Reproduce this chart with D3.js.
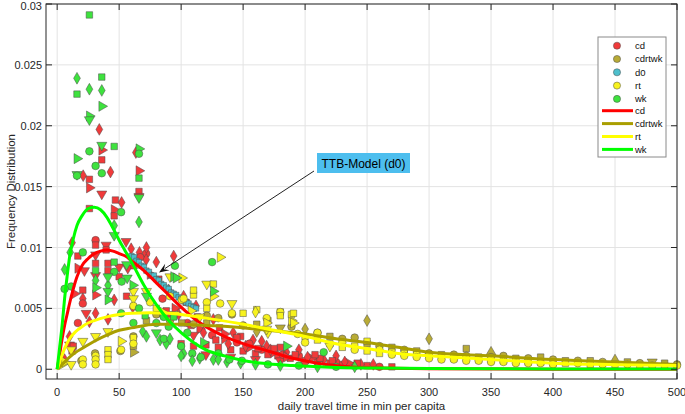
<!DOCTYPE html>
<html>
<head>
<meta charset="utf-8">
<script src="https://cdn.jsdelivr.net/npm/d3@7/dist/d3.min.js"></script>
<style>
  html, body { margin: 0; padding: 0; background: #ffffff; }
  svg { display: block; font-family: "Liberation Sans", Arial, Helvetica, sans-serif; }
</style>
</head>
<body>
<svg id="chart" width="685" height="414"></svg>
<script>
// ---------------- DATA ----------------
const xTicks = [0, 50, 100, 150, 200, 250, 300, 350, 400, 450, 500];
const yTicks = [0, 0.005, 0.01, 0.015, 0.02, 0.025, 0.03];
const yTickLabels = ["0", "0.005", "0.01", "0.015", "0.02", "0.025", "0.03"];
const seriesNames = ["cd", "cdrtwk", "d0", "rt", "wk"];
const lineNames = ["cd", "cdrtwk", "rt", "wk"];

// scatter points: [minutes, frequency, marker]
const cdPoints = [
  [34,0.0197,'d'],[36,0.0180,'>'],[36,0.0172,'s'],[63.5,0.0178,'d'],[21,0.0159,'d'],[26,0.0156,'s'],
  [43,0.0162,'d'],[66,0.0163,'>'],[26,0.0149,'>'],[36,0.0144,'v'],[47,0.0139,'s'],[52,0.0137,'d'],
  [66,0.0146,'s'],[66,0.0142,'v'],[26,0.0132,'s'],[46,0.0131,'>'],[46,0.0126,'s'],[31,0.0106,'o'],
  [31,0.0102,'s'],[12,0.0104,'d'],[39.5,0.0102,'v'],[39.5,0.0098,'s'],[16.7,0.0093,'s'],[31,0.0094,'v'],
  [55.6,0.0105,'v'],[59.7,0.0099,'d'],[66.4,0.0096,'d'],[71.8,0.0095,'o'],[71.8,0.0090,'d'],[41,0.0087,'s'],
  [41,0.0081,'s'],[50,0.0084,'v'],[57,0.0083,'v'],[50,0.0076,'s'],[16.7,0.0083,'>'],[22,0.0081,'v'],
  [31,0.0087,'s'],[31,0.0077,'v'],[31,0.0061,'>'],[46,0.0057,'d'],[31,0.0046,'d'],[23.4,0.0046,'v'],
  [20.7,0.0065,'s'],[20.7,0.0058,'d'],[14,0.0062,'>'],[20.7,0.0054,'o'],[16.7,0.0038,'o'],[26,0.0039,'d'],
  [10,0.0027,'d'],[10,0.0020,'v'],[13,0.0019,'s'],[12,0.0015,'s'],[6,0.0008,'d'],[94,0.0093,'d'],
  [41,0.0041,'d'],[56,0.0060,'s'],[61,0.0051,'d'],[67,0.0092,'o'],[72,0.0100,'d'],[80,0.0088,'d'],
  [62,0.0085,'s'],[75,0.0078,'>'],[82,0.0074,'s'],[90,0.0065,'d'],[85,0.0058,'o'],[95,0.0050,'>'],
  [102,0.0060,'d'],[104,0.0055,'s'],[112,0.0052,'d'],[113,0.0043,'s'],[126,0.0041,'d'],[131,0.0034,'s'],
  [142,0.0030,'d'],[148,0.0027,'s'],[158,0.0024,'d'],[169,0.0019,'d'],[180,0.0018,'s'],[185,0.0014,'d'],
  [100,0.0021,'s'],[110,0.0019,'s'],[120,0.0020,'s'],[130,0.0018,'s'],[140,0.0016,'s'],[150,0.0015,'s'],
  [160,0.0013,'s'],[170,0.0012,'s'],[178,0.0011,'s'],[188,0.0009,'s'],[200,0.0007,'s'],[210,0.0006,'s'],
  [220,0.0005,'s'],[230,0.0004,'s'],[240,0.0003,'s'],[250,0.0003,'s'],[105,0.0038,'o'],[115,0.0033,'>'],
  [125,0.0028,'o'],[135,0.0025,'>'],[145,0.0022,'o'],[155,0.0018,'>'],[165,0.0016,'o'],[175,0.0014,'>'],
  [195,0.0011,'o'],[205,0.0009,'>'],[215,0.0008,'d'],[225,0.0006,'o'],[235,0.0005,'>'],[245,0.0004,'d'],
  [260,0.0002,'o'],[270,0.0002,'s'],[120,0.0012,'v'],[140,0.0010,'v'],[160,0.0008,'v'],[180,0.0007,'v'],
  [200,0.0005,'v'],[110,0.0028,'v'],[165,0.0023,'d'],[195,0.0016,'d'],[225,0.0011,'d'],
  [98,0.0045,'d'],[108,0.0036,'s'],[118,0.0030,'d'],[128,0.0024,'s'],[138,0.0021,'d'],[152,0.0019,'d'],
  [162,0.0017,'s'],[172,0.0016,'d'],[182,0.0012,'o'],[192,0.0012,'s'],[202,0.0010,'d'],[212,0.0009,'s'],
  [222,0.0007,'s'],[232,0.0006,'d'],[242,0.0005,'s'],[255,0.0004,'d'],[135,0.0029,'>'],[145,0.0026,'s'],
  [155,0.0021,'o'],[175,0.0017,'s'],[185,0.0010,'>'],[208,0.0012,'s'],[88,0.0048,'s'],[92,0.0044,'o']
];
const cdrtwkPoints = [
  [61.5,0.0014,'>'],[61.5,0.0019,'s'],[61.5,0.0027,'o'],[51,0.0015,'o'],[30.6,0.0013,'o'],[19.5,0.0007,'o'],
  [80,0.0045,'o'],[72,0.0040,'s'],[91,0.0040,'o'],[100.5,0.0038,'s'],[110,0.0037,'o'],[120.7,0.0044,'o'],
  [120.7,0.0038,'s'],[130,0.0042,'o'],[141,0.0045,'o'],[150,0.0036,'o'],[161,0.0037,'s'],[161,0.0031,'d'],
  [170,0.0040,'s'],[180,0.0047,'s'],[180,0.0034,'v'],[189,0.0035,'o'],
  [200,0.0033,'d'],[210,0.0030,'o'],[220,0.0027,'s'],[230,0.0025,'o'],[240,0.0026,'o'],[250,0.0040,'d'],
  [250,0.0021,'s'],[260,0.0019,'o'],[270,0.0018,'s'],[280,0.0016,'o'],[290,0.0015,'s'],[300,0.0025,'d'],
  [300,0.0013,'o'],[310,0.0012,'s'],[320,0.0012,'o'],[330,0.0017,'s'],[330,0.0011,'o'],[340,0.0010,'s'],
  [350,0.0014,'^'],[350,0.0010,'o'],[360,0.0011,'o'],[370,0.0009,'s'],[380,0.0009,'o'],[390,0.0010,'s'],
  [400,0.0008,'o'],[410,0.0007,'s'],[420,0.0007,'o'],[430,0.0007,'s'],[440,0.0006,'o'],[450,0.00076,'^'],
  [460,0.0006,'s'],[470,0.0005,'o'],[480,0.0006,'v'],[490,0.0005,'s'],[500,0.0004,'o']
];
const d0Points = [
  [60,0.0093,'s'],[62,0.0092,'s'],[64,0.0089,'s'],[66,0.0088,'s'],[68,0.0085,'s'],[70,0.0084,'s'],
  [72,0.0081,'s'],[74,0.0080,'s'],[76,0.0077,'s'],[78,0.0077,'s'],[80,0.0074,'s'],[82,0.0073,'s'],
  [84,0.0070,'s'],[86,0.0069,'s'],[88,0.0067,'s'],[90,0.0066,'s'],[92,0.0063,'s'],[94,0.0062,'s'],
  [96,0.0061,'s'],[98,0.0059,'s'],[100,0.0058,'s'],[102,0.0056,'s'],[104,0.0055,'s'],[106,0.0054,'s'],
  [108,0.0052,'s'],[110,0.0051,'s'],[112,0.0050,'s']
];
const rtPoints = [
  [4,0.0004,'>'],[6,0.0006,'>'],[11.3,0.0004,'v'],[20.7,0.0008,'o'],[20.7,0.0004,'o'],[31,0.0011,'o'],
  [31,0.0008,'o'],[31,0.0004,'o'],[41,0.0031,'v'],[31,0.0027,'v'],[20.7,0.0023,'v'],[11.3,0.0016,'v'],
  [41,0.0016,'s'],[41,0.0012,'s'],[41,0.0008,'s'],[51.6,0.0023,'>'],[51.6,0.0016,'o'],[61.5,0.0026,'s'],
  [61.5,0.0021,'o'],[61.5,0.0064,'v'],[61.5,0.0058,'v'],[61.5,0.0052,'o'],
  [131.5,0.0092,'>'],[91,0.0076,'v'],[100.5,0.0075,'>'],[120.7,0.0070,'v'],[126,0.0060,'>'],[91,0.0060,'o'],
  [100.5,0.0057,'o'],[110,0.0061,'s'],[120.7,0.0055,'o'],[120.7,0.0050,'s'],[131.5,0.0054,'o'],[141,0.0054,'v'],
  [141,0.0046,'o'],[150,0.0046,'s'],[161,0.0049,'s'],[169,0.0042,'o'],[170,0.0030,'v'],[180,0.0047,'o'],
  [180,0.0044,'s'],[189,0.0040,'>'],[189,0.0045,'s'],[194,0.0029,'o'],[102,0.0058,'o'],[110,0.0065,'s'],
  [126,0.0070,'s'],[160,0.0047,'d'],[169,0.0038,'>'],[169,0.0033,'v'],[190.6,0.0046,'s'],[190.6,0.0038,'>'],
  [75,0.0055,'o'],[80,0.0050,'s'],[85,0.0047,'>'],[72,0.0064,'v'],[95,0.0045,'v'],[108,0.0048,'>'],[115,0.0043,'v'],
  [200,0.0027,'s'],[200,0.0022,'o'],[210,0.0030,'o'],[210,0.0024,'s'],[220,0.0021,'s'],[220,0.0019,'v'],
  [230,0.0022,'o'],[230,0.0018,'s'],[240,0.0019,'s'],[240,0.0016,'o'],[250,0.0023,'s'],[250,0.0015,'s'],
  [260,0.0016,'o'],[260,0.0013,'s'],[270,0.0014,'s'],[270,0.0012,'o'],[280,0.0013,'s'],[280,0.0011,'o'],
  [290,0.0012,'s'],[290,0.0010,'o'],[300,0.0011,'s'],[300,0.0009,'o'],[310,0.0010,'s'],[310,0.0008,'o'],
  [320,0.0009,'s'],[320,0.0008,'o'],[330,0.0009,'s'],[330,0.0007,'o'],[340,0.0008,'s'],[340,0.0007,'o'],
  [350,0.0008,'s'],[350,0.0006,'o'],[360,0.0007,'s'],[360,0.0006,'o'],[370,0.0007,'s'],[370,0.0005,'o'],
  [380,0.0006,'s'],[380,0.0005,'o'],[390,0.0006,'s'],[390,0.0005,'o'],[400,0.0005,'s'],[400,0.0004,'o'],
  [410,0.0005,'s'],[420,0.0005,'o'],[430,0.0004,'s'],[440,0.0004,'o'],[450,0.0004,'s'],[460,0.0004,'o'],
  [470,0.0003,'s'],[480,0.0003,'o'],[490,0.0003,'s'],[500,0.0003,'o']
];
const wkPoints = [
  [26,0.0291,'s'],[16,0.0239,'d'],[36,0.0240,'s'],[16,0.0226,'s'],[26,0.0230,'d'],[36,0.0229,'d'],
  [36,0.0216,'>'],[26,0.0208,'>'],[26,0.0205,'v'],[36,0.0184,'v'],[46,0.0183,'s'],[26,0.0179,'o'],
  [16,0.0173,'>'],[31,0.0167,'o'],[16,0.0160,'v'],[16,0.0159,'o'],[36,0.0161,'o'],[66,0.0181,'>'],
  [66,0.0177,'o'],[66,0.0157,'s'],[66,0.0141,'v'],[51.6,0.0129,'o'],[66,0.0121,'d'],[46,0.0118,'d'],
  [46,0.0110,'v'],[10.5,0.0096,'d'],[20.7,0.0096,'o'],[31,0.0081,'s'],[31,0.0073,'d'],[31,0.0067,'>'],
  [41,0.0069,'d'],[41,0.0064,'v'],[41,0.0057,'>'],[56.5,0.0075,'v'],[52,0.0072,'o'],[6,0.0082,'d'],
  [11.3,0.0068,'o'],[6,0.0066,'o'],[46,0.0088,'s'],[46,0.0080,'o'],[56,0.0086,'v'],[61,0.0069,'>'],
  [51.6,0.0046,'o'],[61.5,0.0038,'o'],[69,0.0031,'d'],[66,0.0050,'o'],[71,0.0044,'s'],[41,0.0076,'v'],
  [72,0.0060,'v'],[72,0.0027,'d'],[83,0.0024,'d'],[88,0.0021,'d'],[102,0.0013,'d'],[115,0.0009,'d'],
  [126,0.0008,'d'],[137,0.0006,'d'],[148,0.0005,'d'],[80,0.0038,'o'],[90,0.0035,'o'],[94,0.0043,'s'],
  [94,0.0076,'>'],[95,0.0085,'o'],[125,0.0088,'o'],[86,0.0043,'o'],[86,0.0025,'o'],[91,0.0025,'d'],
  [100,0.0019,'o'],[100,0.0011,'d'],[109,0.0013,'o'],[109,0.0007,'d'],[116,0.0010,'o'],[130,0.0013,'o'],
  [130,0.0008,'d'],[139,0.0008,'o'],[149,0.0007,'o'],[185,0.0019,'>'],[215,0.0014,'o'],[126,0.0064,'>'],
  [96,0.0075,'>'],[80,0.0030,'v'],[105,0.0030,'o'],[118,0.0022,'>'],[160,0.0004,'d'],[170,0.0004,'o'],
  [180,0.0003,'d'],[195,0.0003,'o'],[210,0.0002,'d'],[225,0.0002,'o'],[240,0.0002,'d']
];

// fitted model curves: [minutes, frequency]
const cdCurve = [
  [0,0],[2,0.0012],[4,0.0025],[6,0.0036],[8,0.0045],[10,0.0054],[13,0.0066],[16,0.0076],[20,0.0085],
  [25,0.0091],[30,0.0095],[35,0.0097],[40,0.0098],[45,0.0097],[50,0.0095],[55,0.0093],[60,0.0089],
  [70,0.0081],[80,0.0071],[90,0.0061],[100,0.0051],[110,0.0042],[120,0.0035],[135,0.0027],[150,0.0021],
  [170,0.0015],[190,0.0009],[210,0.0005],[230,0.00025],[250,0.00012],[300,0.00004],[400,0.00001],[500,0]
];
const cdrtwkCurve = [
  [0,0],[5,0.0005],[10,0.0010],[15,0.0014],[20,0.0017],[30,0.0023],[40,0.0028],[50,0.0032],[60,0.0034],
  [80,0.0037],[100,0.0037],[120,0.0036],[140,0.0035],[160,0.0033],[180,0.0031],[200,0.0029],[225,0.0025],
  [250,0.0022],[275,0.0018],[300,0.0014],[350,0.0011],[400,0.0008],[450,0.0006],[500,0.0004]
];
const rtCurve = [
  [0,0],[3,0.0009],[6,0.0017],[10,0.0025],[15,0.0031],[20,0.0035],[25,0.0038],[30,0.0040],[40,0.0043],
  [50,0.0045],[60,0.0046],[75,0.00465],[90,0.0046],[100,0.0045],[120,0.0042],[150,0.0037],[175,0.0032],
  [200,0.0027],[225,0.0021],[250,0.0017],[275,0.0013],[300,0.0011],[350,0.0008],[400,0.0005],
  [450,0.00038],[500,0.0003]
];
const wkCurve = [
  [0,0],[2,0.0018],[4,0.0036],[6,0.0058],[8,0.0076],[10,0.0092],[13,0.0107],[16,0.0118],[20,0.0126],
  [25,0.0132],[30,0.0133],[35,0.0131],[40,0.0125],[45,0.0116],[50,0.0106],[55,0.0097],[60,0.0088],
  [70,0.0069],[80,0.0053],[90,0.0040],[100,0.0030],[110,0.0022],[120,0.0016],[135,0.0011],[150,0.00072],
  [170,0.00045],[190,0.0003],[220,0.00017],[260,0.0001],[300,0.00006],[400,0.00003],[500,0.00002]
];
const annotationText = "TTB-Model (d0)";
const xLabel = "daily travel time in min per capita";
const yLabel = "Frequency Distribution";

// ---------------- STYLE ----------------
const markerFill = { cd: "#f03a3a", cdrtwk: "#b8ab36", d0: "#4dbfcc", rt: "#f7f21e", wk: "#3ee23e" };
const lineColor = { cd: "#ff0000", cdrtwk: "#a99e00", rt: "#ffff00", wk: "#00ff00" };

const svg = d3.select("#chart");
const L = 46, R = 677, T = 4, B = 379;
const x = d3.scaleLinear().domain([-9, 500]).range([L, R]);
const y = d3.scaleLinear().domain([-0.0008, 0.03]).range([B, T]);

svg.append("rect").attr("x", 0).attr("y", 0).attr("width", 685).attr("height", 414).attr("fill", "#fff");

// grid
const grid = svg.append("g").attr("stroke", "#e3e3e3").attr("stroke-width", 1);
xTicks.forEach(t => grid.append("line").attr("x1", x(t)).attr("x2", x(t)).attr("y1", T).attr("y2", B));
yTicks.forEach(t => grid.append("line").attr("x1", L).attr("x2", R).attr("y1", y(t)).attr("y2", y(t)));

// markers
const shapeOf = {
  o: { type: d3.symbolCircle, size: 46, rot: 0 },
  s: { type: d3.symbolSquare, size: 42, rot: 0 },
  d: { type: d3.symbolDiamond, size: 40, rot: 0 },
  '^': { type: d3.symbolTriangle, size: 44, rot: 0 },
  v: { type: d3.symbolTriangle, size: 44, rot: 180 },
  '>': { type: d3.symbolTriangle, size: 44, rot: 90 }
};
function drawPoints(points, name, sizeScale) {
  const g = svg.append("g");
  g.selectAll("path").data(points).join("path")
    .attr("d", d => { const s = shapeOf[d[2]]; return d3.symbol().type(s.type).size(s.size * sizeScale)(); })
    .attr("transform", d => `translate(${x(d[0])},${y(d[1])}) rotate(${shapeOf[d[2]].rot})`)
    .attr("fill", markerFill[name])
    .attr("stroke", "#4a4a4a")
    .attr("stroke-width", 0.5);
}
drawPoints(cdPoints, "cd", 1);
drawPoints(cdrtwkPoints, "cdrtwk", 1);
drawPoints(d0Points, "d0", 0.7);
drawPoints(rtPoints, "rt", 1);
drawPoints(wkPoints, "wk", 1);

// curves
const line = d3.line().x(d => x(d[0])).y(d => y(d[1])).curve(d3.curveMonotoneX);
const curves = { cd: cdCurve, cdrtwk: cdrtwkCurve, rt: rtCurve, wk: wkCurve };
lineNames.forEach(n => {
  svg.append("path").attr("d", line(curves[n])).attr("fill", "none")
    .attr("stroke", lineColor[n]).attr("stroke-width", 3).attr("stroke-linejoin", "round");
});

// axes box and ticks
const axisCol = "#262626";
svg.append("rect").attr("x", L).attr("y", T).attr("width", R - L).attr("height", B - T)
  .attr("fill", "none").attr("stroke", axisCol).attr("stroke-width", 1);
const tk = svg.append("g").attr("stroke", axisCol).attr("stroke-width", 1);
xTicks.forEach(t => {
  tk.append("line").attr("x1", x(t)).attr("x2", x(t)).attr("y1", B).attr("y2", B - 6);
  tk.append("line").attr("x1", x(t)).attr("x2", x(t)).attr("y1", T).attr("y2", T + 6);
});
yTicks.forEach(t => {
  tk.append("line").attr("x1", L).attr("x2", L + 6).attr("y1", y(t)).attr("y2", y(t));
  tk.append("line").attr("x1", R).attr("x2", R - 6).attr("y1", y(t)).attr("y2", y(t));
});
const lab = svg.append("g").attr("fill", axisCol).attr("font-size", 11);
xTicks.forEach(t => lab.append("text").attr("x", x(t)).attr("y", 395.5).attr("text-anchor", "middle").text(t));
yTicks.forEach((t, i) => lab.append("text").attr("x", 42).attr("y", Math.max(y(t) + 4, 9.5))
  .attr("text-anchor", "end").text(yTickLabels[i]));
lab.append("text").attr("x", (L + R) / 2).attr("y", 410).attr("text-anchor", "middle").attr("font-size", 11.5).text(xLabel);
lab.append("text").attr("transform", `translate(15,${(T + B) / 2}) rotate(-90)`).attr("text-anchor", "middle")
  .attr("font-size", 11.5).text(yLabel);

// annotation arrow
const ax1 = 314, ay1 = 171, ax2 = 159, ay2 = 272.5;
svg.append("line").attr("x1", ax1).attr("y1", ay1).attr("x2", ax2 + 6).attr("y2", ay2 - 4)
  .attr("stroke", "#222").attr("stroke-width", 1);
{
  const ang = Math.atan2(ay2 - ay1, ax2 - ax1);
  const len = 10, wid = 4;
  const bx = ax2 - len * Math.cos(ang), by = ay2 - len * Math.sin(ang);
  const nx = -Math.sin(ang), ny = Math.cos(ang);
  const mx = ax2 - 0.6 * len * Math.cos(ang), my = ay2 - 0.6 * len * Math.sin(ang);
  svg.append("path")
    .attr("d", `M${ax2},${ay2} L${bx + nx * wid},${by + ny * wid} L${mx},${my} L${bx - nx * wid},${by - ny * wid} Z`)
    .attr("fill", "#111");
}
svg.append("rect").attr("x", 317).attr("y", 153).attr("width", 93).attr("height", 20).attr("fill", "#4dbeee");
svg.append("text").attr("x", 363.5).attr("y", 167.5).attr("text-anchor", "middle").attr("font-size", 12)
  .attr("fill", "#000").text(annotationText);

// legend
const lg = svg.append("g");
lg.append("rect").attr("x", 598).attr("y", 37).attr("width", 68).attr("height", 120)
  .attr("fill", "#fff").attr("stroke", "#8a8a8a").attr("stroke-width", 1);
seriesNames.forEach((n, i) => {
  const yy = 45.7 + i * 13.3;
  lg.append("path").attr("d", d3.symbol().type(d3.symbolCircle).size(40)())
    .attr("transform", `translate(617,${yy})`).attr("fill", markerFill[n]).attr("stroke", "#4a4a4a").attr("stroke-width", 0.5);
  lg.append("text").attr("x", 635).attr("y", yy + 3.3).attr("font-size", 9.5).attr("fill", "#111").text(n);
});
lineNames.forEach((n, i) => {
  const yy = 110.7 + i * 12.9;
  lg.append("line").attr("x1", 602).attr("x2", 633).attr("y1", yy).attr("y2", yy)
    .attr("stroke", lineColor[n]).attr("stroke-width", 3);
  lg.append("text").attr("x", 635).attr("y", yy + 3.3).attr("font-size", 9.5).attr("fill", "#111").text(n);
});
</script>
</body>
</html>
